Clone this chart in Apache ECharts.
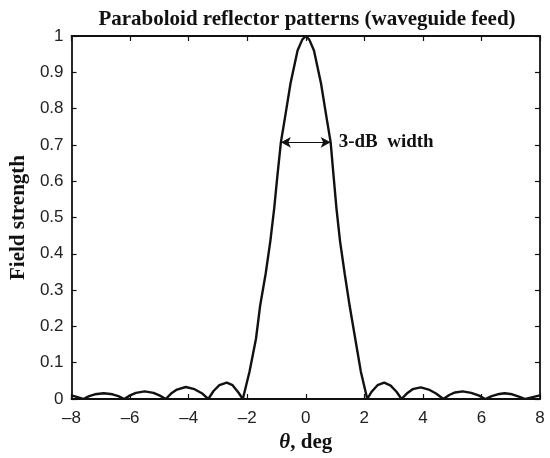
<!DOCTYPE html>
<html>
<head>
<meta charset="utf-8">
<script src="https://cdn.jsdelivr.net/npm/echarts@6/dist/echarts.min.js"></script>
<style>
html,body{margin:0;padding:0;background:#fff;}
#chart{width:550px;height:458px;}
</style>
</head>
<body>
<div id="chart"></div>
<script>
const titleText = 'Paraboloid reflector patterns (waveguide feed)';
const yName = 'Field strength';
const xTicks = [-8, -6, -4, -2, 0, 2, 4, 6, 8];
const yTicks = [0, 0.1, 0.2, 0.3, 0.4, 0.5, 0.6, 0.7, 0.8, 0.9, 1];
const theta = [
  -8, -7.8, -7.6, -7.4, -7.2, -6.9, -6.6, -6.4, -6.2, -6.0, -5.8, -5.5, -5.2, -5.0,
  -4.78, -4.6, -4.4, -4.1, -3.8, -3.55, -3.33, -3.15, -2.95, -2.7, -2.5, -2.3, -2.15,
  -1.92, -1.7, -1.56, -1.37, -1.21, -1.08, -0.97, -0.85, -0.7, -0.52, -0.28, -0.12, 0,
  0.12, 0.28, 0.52, 0.7, 0.85, 0.95, 1.05, 1.17, 1.33, 1.5, 1.69, 1.88, 2.1,
  2.25, 2.45, 2.68, 2.9, 3.1, 3.27, 3.45, 3.65, 3.93, 4.2, 4.45, 4.7,
  4.9, 5.1, 5.36, 5.65, 5.9, 6.13, 6.35, 6.55, 6.79, 7.05, 7.3, 7.5, 7.75, 8
];
const field = [
  0.010, 0.005, 0, 0.008, 0.013, 0.016, 0.013, 0.008, 0, 0.010, 0.017, 0.021, 0.017, 0.010,
  0, 0.015, 0.026, 0.033, 0.027, 0.016, 0, 0.022, 0.038, 0.045, 0.038, 0.018, 0,
  0.076, 0.166, 0.256, 0.345, 0.435, 0.524, 0.614, 0.707, 0.78, 0.87, 0.96, 0.99, 1.0,
  0.99, 0.96, 0.87, 0.78, 0.707, 0.614, 0.524, 0.435, 0.345, 0.256, 0.166, 0.076, 0,
  0.02, 0.038, 0.045, 0.037, 0.02, 0, 0.015, 0.027, 0.032, 0.026, 0.015, 0,
  0.011, 0.018, 0.021, 0.017, 0.010, 0, 0.008, 0.013, 0.016, 0.013, 0.006, 0, 0.005, 0.010
];
const halfPower = { left: -0.85, right: 0.85, level: 0.707, label: '3-dB  width' };

const chart = echarts.init(document.getElementById('chart'), null, { renderer: 'canvas' });
const tickFont = { fontFamily: 'Liberation Sans', fontSize: 17, color: '#222' };
const fmtMinus = v => String(v).replace('-', '\u2013');
const axLine = { show: true, onZero: false, lineStyle: { color: '#111', width: 1.8 } };
const axTick = { show: true, inside: true, length: 5, lineStyle: { color: '#111', width: 1.2 } };

chart.setOption({
  animation: false,
  backgroundColor: '#fff',
  title: {
    text: titleText,
    left: 302, top: 4, textAlign: 'center',
    textStyle: { fontFamily: 'Liberation Serif', fontWeight: 'bold', fontSize: 21, color: '#111' }
  },
  grid: { left: 68, right: 10, top: 36, bottom: 48, containLabel: false },
  xAxis: [{
    type: 'value', min: xTicks[0], max: xTicks[xTicks.length - 1], interval: 2,
    axisLine: axLine, axisTick: axTick, splitLine: { show: false },
    axisLabel: Object.assign({ margin: 11, formatter: fmtMinus }, tickFont),
    name: '{t|θ}{d|, deg}', nameLocation: 'middle', nameGap: 33,
    nameTextStyle: {
      rich: {
        t: { fontFamily: 'Liberation Serif', fontStyle: 'italic', fontWeight: 'bold', fontSize: 21, color: '#111' },
        d: { fontFamily: 'Liberation Serif', fontWeight: 'bold', fontSize: 21, color: '#111' }
      }
    }
  }, {
    type: 'value', position: 'top', min: xTicks[0], max: xTicks[xTicks.length - 1], interval: 2,
    axisLine: axLine, axisTick: axTick, splitLine: { show: false }, axisLabel: { show: false }
  }],
  yAxis: [{
    type: 'value', min: yTicks[0], max: yTicks[yTicks.length - 1], interval: 0.1,
    axisLine: axLine, axisTick: axTick, splitLine: { show: false },
    axisLabel: Object.assign({ margin: 8, formatter: v => String(+v.toFixed(1)) }, tickFont),
    name: yName, nameLocation: 'middle', nameRotate: 90, nameGap: 42,
    nameTextStyle: { fontFamily: 'Liberation Serif', fontWeight: 'bold', fontSize: 21, color: '#111' }
  }, {
    type: 'value', position: 'right', min: yTicks[0], max: yTicks[yTicks.length - 1], interval: 0.1,
    axisLine: axLine, axisTick: axTick, splitLine: { show: false }, axisLabel: { show: false }
  }],
  series: [{
    type: 'line',
    data: theta.map((t, i) => [t, field[i]]),
    showSymbol: false,
    lineStyle: { color: '#111', width: 2.4 },
    markLine: {
      silent: true,
      symbol: ['arrow', 'arrow'],
      symbolSize: [8, 10],
      lineStyle: { color: '#111', width: 1.2, type: 'solid' },
      label: {
        show: true, position: 'end', formatter: halfPower.label, distance: 8,
        fontFamily: 'Liberation Serif', fontWeight: 'bold', fontSize: 19, color: '#111'
      },
      data: [[{ coord: [halfPower.left, halfPower.level] }, { coord: [halfPower.right, halfPower.level] }]]
    }
  }]
});
</script>
</body>
</html>
